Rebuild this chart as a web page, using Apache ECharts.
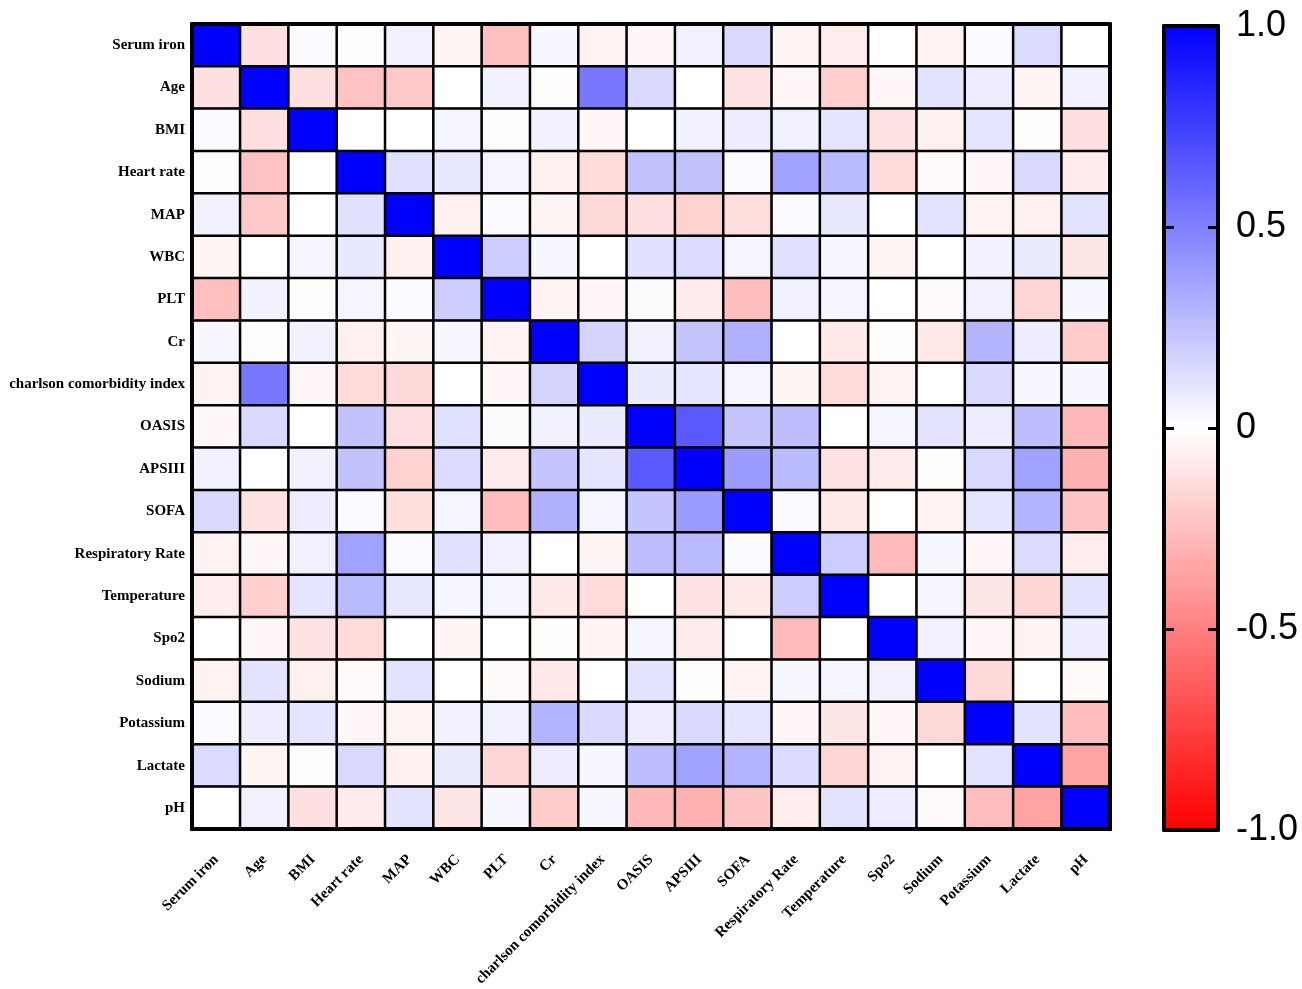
<!DOCTYPE html>
<html>
<head>
<meta charset="utf-8">
<script src="https://cdn.jsdelivr.net/npm/echarts@6/dist/echarts.min.js"></script>
<style>
html,body{margin:0;padding:0;background:#fff;}
#chart{width:1302px;height:989px;}
</style>
</head>
<body>
<div id="chart"></div>
<script>
const categories = ['Serum iron','Age','BMI','Heart rate','MAP','WBC','PLT','Cr','charlson comorbidity index','OASIS','APSIII','SOFA','Respiratory Rate','Temperature','Spo2','Sodium','Potassium','Lactate','pH'];

const corr = [
  [1, -0.12, 0.02, -0.01, 0.06, -0.04, -0.25, 0.03, -0.05, -0.03, 0.06, 0.15, -0.05, -0.07, 0, -0.05, 0.02, 0.14, 0],
  [-0.12, 1, -0.12, -0.24, -0.21, 0, 0.05, -0.01, 0.53, 0.15, 0, -0.11, -0.03, -0.19, -0.03, 0.11, 0.07, -0.04, 0.06],
  [0.02, -0.12, 1, 0, 0, 0.04, -0.01, 0.05, -0.03, 0, 0.05, 0.07, 0.06, 0.1, -0.11, -0.06, 0.1, -0.01, -0.12],
  [-0.01, -0.24, 0, 1, 0.12, 0.09, 0.04, -0.06, -0.14, 0.24, 0.24, 0.02, 0.37, 0.27, -0.14, -0.02, -0.03, 0.15, -0.08],
  [0.06, -0.21, 0, 0.12, 1, -0.06, 0.02, -0.04, -0.15, -0.12, -0.18, -0.13, 0.02, 0.09, 0, 0.11, -0.05, -0.06, 0.11],
  [-0.04, 0, 0.04, 0.09, -0.06, 1, 0.2, 0.03, 0, 0.12, 0.14, 0.04, 0.12, 0.03, -0.04, 0, 0.05, 0.08, -0.1],
  [-0.25, 0.05, -0.01, 0.04, 0.02, 0.2, 1, -0.05, -0.03, 0.01, -0.08, -0.26, 0.06, 0.04, 0, -0.02, 0.06, -0.16, 0.03],
  [0.03, -0.01, 0.05, -0.06, -0.04, 0.03, -0.05, 1, 0.17, 0.05, 0.23, 0.31, 0, -0.09, -0.01, -0.09, 0.3, 0.07, -0.2],
  [-0.05, 0.53, -0.03, -0.14, -0.15, 0, -0.03, 0.17, 1, 0.08, 0.1, 0.04, -0.04, -0.14, -0.05, 0, 0.15, 0.03, 0.03],
  [-0.03, 0.15, 0, 0.24, -0.12, 0.12, 0.01, 0.05, 0.08, 1, 0.65, 0.23, 0.26, 0, 0.04, 0.11, 0.07, 0.26, -0.28],
  [0.06, 0, 0.05, 0.24, -0.18, 0.14, -0.08, 0.23, 0.1, 0.65, 1, 0.39, 0.27, -0.11, -0.08, -0.01, 0.15, 0.37, -0.31],
  [0.15, -0.11, 0.07, 0.02, -0.13, 0.04, -0.26, 0.31, 0.04, 0.23, 0.39, 1, 0.02, -0.09, 0, -0.05, 0.1, 0.3, -0.23],
  [-0.05, -0.03, 0.06, 0.37, 0.02, 0.12, 0.06, 0, -0.04, 0.26, 0.27, 0.02, 1, 0.2, -0.27, 0.03, -0.03, 0.14, -0.07],
  [-0.07, -0.19, 0.1, 0.27, 0.09, 0.03, 0.04, -0.09, -0.14, 0, -0.11, -0.09, 0.2, 1, 0, 0.04, -0.1, -0.16, 0.11],
  [0, -0.03, -0.11, -0.14, 0, -0.04, 0, -0.01, -0.05, 0.04, -0.08, 0, -0.27, 0, 1, 0.06, -0.03, -0.05, 0.07],
  [-0.05, 0.11, -0.06, -0.02, 0.11, 0, -0.02, -0.09, 0, 0.11, -0.01, -0.05, 0.03, 0.04, 0.06, 1, -0.15, 0, -0.02],
  [0.02, 0.07, 0.1, -0.03, -0.05, 0.05, 0.06, 0.3, 0.15, 0.07, 0.15, 0.1, -0.03, -0.1, -0.03, -0.15, 1, 0.11, -0.26],
  [0.14, -0.04, -0.01, 0.15, -0.06, 0.08, -0.16, 0.07, 0.03, 0.26, 0.37, 0.3, 0.14, -0.16, -0.05, 0, 0.11, 1, -0.36],
  [0, 0.06, -0.12, -0.08, 0.11, -0.1, 0.03, -0.2, 0.03, -0.28, -0.31, -0.23, -0.07, 0.11, 0.07, -0.02, -0.26, -0.36, 1]
];

const colorbarTicks = [-1, -0.5, 0, 0.5, 1];
const colorbarLabels = ['-1.0', '-0.5', '0', '0.5', '1.0'];

const data = [];
corr.forEach((row, y) => row.forEach((v, x) => data.push([x, y, v])));

const frameLine = { show: true, onZero: false, lineStyle: { color: '#000', width: 4 } };
const labelFont = { fontFamily: '"Liberation Serif", "Times New Roman", serif', fontWeight: 'bold', fontSize: 15, color: '#000' };

const chart = echarts.init(document.getElementById('chart'), null, { renderer: 'canvas' });
chart.setOption({
  animation: false,
  backgroundColor: '#fff',
  grid: [
    { left: 192, top: 24, width: 918, height: 807 },
    { left: 1164, top: 26, width: 54, height: 804 }
  ],
  xAxis: [
    { type: 'category', data: categories, gridIndex: 0, position: 'bottom', z: 10,
      axisLine: frameLine, axisTick: { show: false }, splitLine: { show: false },
      axisLabel: Object.assign({ rotate: 45, margin: 28, interval: 0 }, labelFont) },
    { type: 'category', data: categories, gridIndex: 0, position: 'top', z: 10,
      axisLine: frameLine, axisTick: { show: false }, axisLabel: { show: false } },
    { type: 'category', data: [''], gridIndex: 1, position: 'bottom', z: 10,
      axisLine: frameLine, axisTick: { show: false }, axisLabel: { show: false } },
    { type: 'category', data: [''], gridIndex: 1, position: 'top', z: 10,
      axisLine: frameLine, axisTick: { show: false }, axisLabel: { show: false } }
  ],
  yAxis: [
    { type: 'category', data: categories, gridIndex: 0, inverse: true, position: 'left', z: 10,
      axisLine: frameLine, axisTick: { show: false }, splitLine: { show: false },
      axisLabel: Object.assign({ margin: 7, interval: 0 }, labelFont) },
    { type: 'category', data: categories, gridIndex: 0, inverse: true, position: 'right', z: 10,
      axisLine: frameLine, axisTick: { show: false }, axisLabel: { show: false } },
    { type: 'value', gridIndex: 1, min: -1, max: 1, interval: 0.5, position: 'left', z: 10,
      axisLine: frameLine, splitLine: { show: false },
      axisTick: { show: true, inside: true, length: 10, lineStyle: { color: '#000', width: 3 } },
      axisLabel: { show: false } },
    { type: 'value', gridIndex: 1, min: -1, max: 1, interval: 0.5, position: 'right', z: 10,
      axisLine: frameLine, splitLine: { show: false },
      axisTick: { show: true, inside: true, length: 10, lineStyle: { color: '#000', width: 3 } },
      axisLabel: { show: true, margin: 18, fontSize: 36, color: '#000',
        fontFamily: '"Liberation Sans", Arial, sans-serif',
        formatter: v => { const i = colorbarTicks.indexOf(v); return i >= 0 ? colorbarLabels[i] : ''; } } }
  ],
  visualMap: {
    type: 'continuous', min: -1, max: 1, seriesIndex: 0, calculable: false,
    left: 1164, top: 26, itemWidth: 54, itemHeight: 804, padding: 0,
    text: null, showLabel: false,
    inRange: { color: ['#FF0000', '#FFFFFF', '#0000FF'] }
  },
  series: [
    { type: 'heatmap', xAxisIndex: 0, yAxisIndex: 0, data: data,
      itemStyle: { borderColor: '#000', borderWidth: 2.5 },
      emphasis: { disabled: true } },
    { type: 'line', xAxisIndex: 2, yAxisIndex: 2, data: [], silent: true }
  ]
});
</script>
</body>
</html>
